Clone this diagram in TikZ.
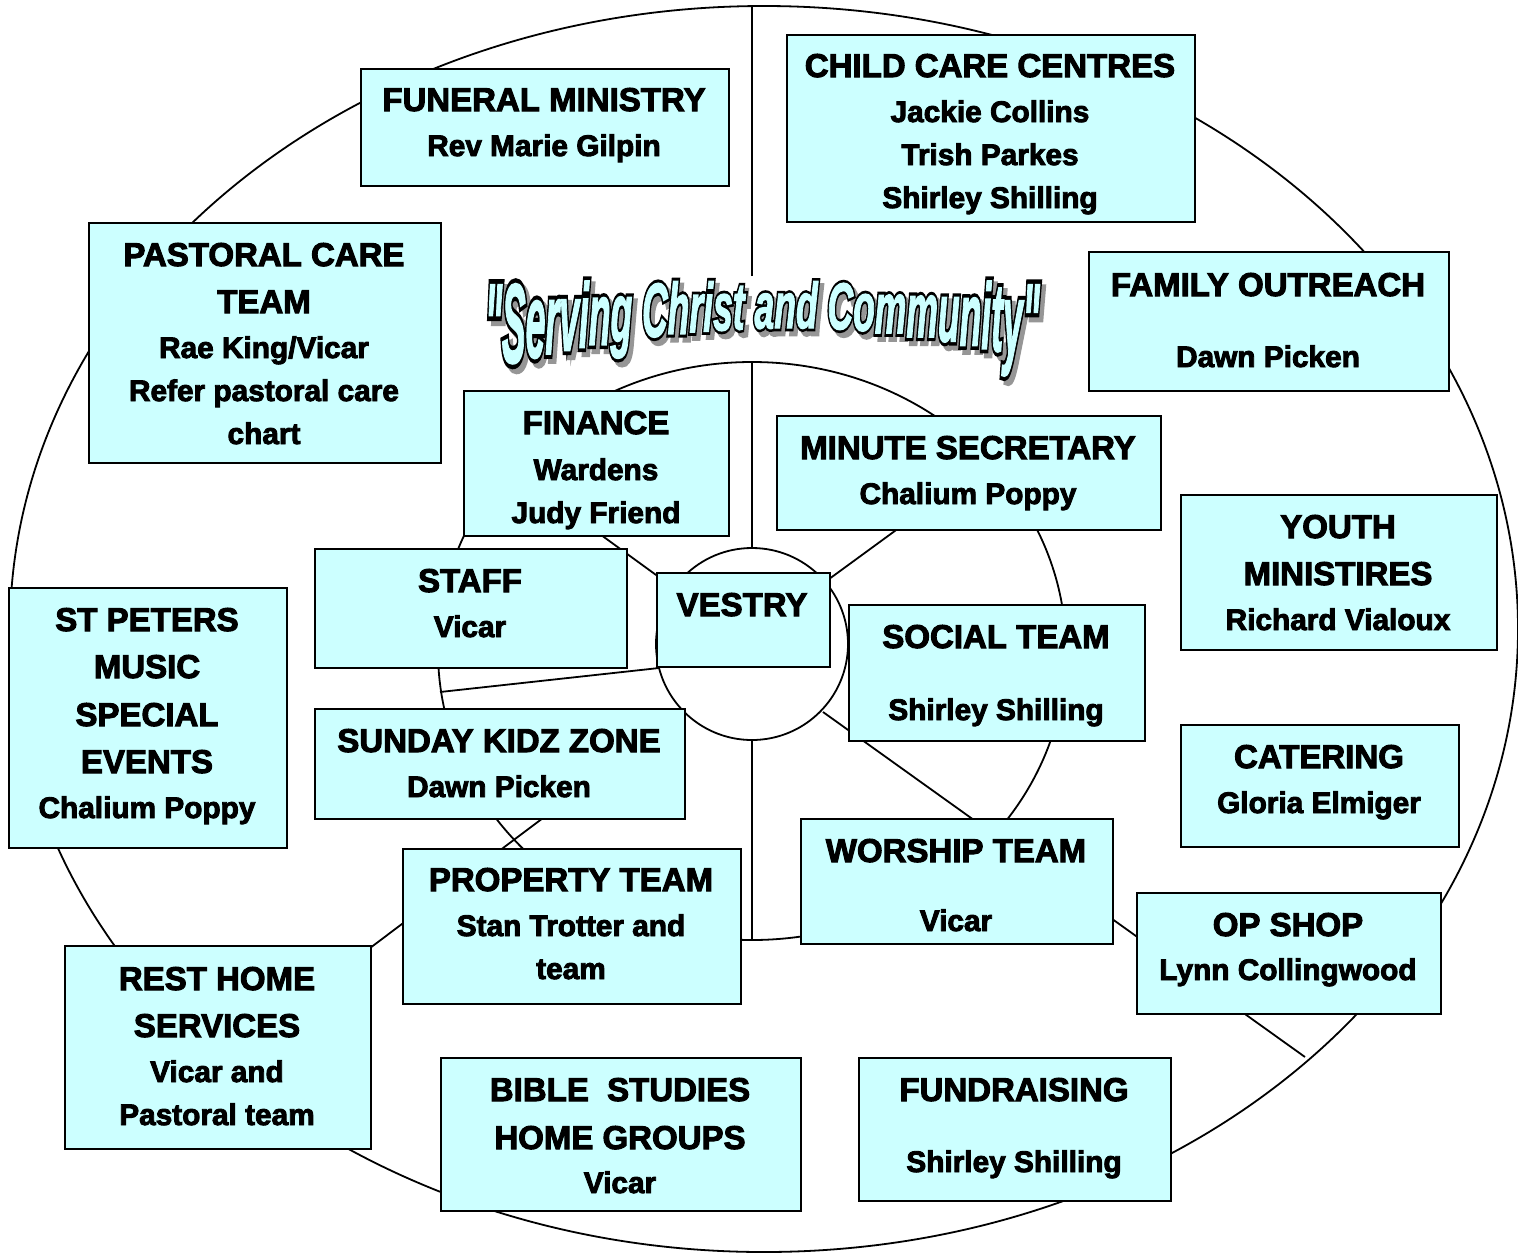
\documentclass[tikz,border=0pt]{standalone}
\usepackage{fontspec}
\usepackage{graphicx}
\setmainfont{Liberation Sans}
\newfontfamily\boxfont[BoldFeatures={FakeBold=3}]{Liberation Sans}
\newfontfamily\waOut[BoldItalicFeatures={FakeBold=10}]{Liberation Sans}
\newfontfamily\waFill[BoldItalicFeatures={FakeBold=2}]{Liberation Sans}
\definecolor{boxcyan}{RGB}{204,255,255}
\definecolor{shadowgray}{RGB}{150,150,150}
\tikzset{
  panel/.style={draw=black, line width=2.2pt, fill=boxcyan, inner sep=0pt, anchor=north west},
  hd/.style={font=\boxfont\bfseries\fontsize{33}{36}\selectfont, anchor=base, inner sep=0pt},
  sb/.style={font=\boxfont\bfseries\fontsize{29.8}{34}\selectfont, anchor=base, inner sep=0pt},
  ring/.style={draw=black, line width=1.8pt},
  spoke/.style={draw=black, line width=1.8pt},
  waletter/.style={anchor=base west, inner sep=0pt}
}
\newcommand\waglyph[2]{\fontsize{63}{63}\selectfont\scalebox{0.5635}[#1]{#2}}
\begin{document}
\begin{tikzpicture}[x=1pt,y=-1pt]
\useasboundingbox[fill=white] (0,0) rectangle (1518,1254);

% rings
\draw[ring] (764,629) ellipse [x radius=754, y radius=623];
\draw[ring] (752,651) ellipse [x radius=314, y radius=289];
\draw[ring] (752,644) circle [radius=96];

% spoke end points
\coordinate (up-a) at (752,548);
\coordinate (up-b) at (752,276);
\coordinate (up-c) at (752,362);
\coordinate (up-d) at (752,6);
\coordinate (dn-a) at (752,740);
\coordinate (dn-b) at (752,940);
\coordinate (ul-a) at (674,588);
\coordinate (ul-b) at (509,468);
\coordinate (ur-a) at (825,582);
\coordinate (ur-b) at (955,487);
\coordinate (lf-a) at (659,668);
\coordinate (lf-b) at (440,692);
\coordinate (lr-a) at (823,712);
\coordinate (lr-b) at (1305,1057);
\coordinate (ll-a) at (684,712);
\coordinate (ll-b) at (221,1060);

\draw[spoke] (up-a) -- (up-c);
\draw[spoke] (up-b) -- (up-d);
\draw[spoke] (dn-a) -- (dn-b);
\draw[spoke] (ul-a) -- (ul-b);
\draw[spoke] (ur-a) -- (ur-b);
\draw[spoke] (lf-a) -- (lf-b);
\draw[spoke] (lr-a) -- (lr-b);
\draw[spoke] (ll-a) -- (ll-b);

% boxes
\node[panel, minimum width=368, minimum height=117] (funeral) at (360,68) {};
\node[panel, minimum width=408, minimum height=187] (childcare) at (786,34) {};
\node[panel, minimum width=352, minimum height=240] (pastoral) at (88,222) {};
\node[panel, minimum width=360, minimum height=139] (family) at (1088,251) {};
\node[panel, minimum width=265, minimum height=145] (finance) at (463,390) {};
\node[panel, minimum width=384, minimum height=114] (minute) at (776,415) {};
\node[panel, minimum width=316, minimum height=155] (youth) at (1180,494) {};
\node[panel, minimum width=312, minimum height=119] (staff) at (314,548) {};
\node[panel, minimum width=173, minimum height=94] (vestry) at (656,572) {};
\node[panel, minimum width=278, minimum height=260] (stpeters) at (8,587) {};
\node[panel, minimum width=296, minimum height=136] (social) at (848,604) {};
\node[panel, minimum width=370, minimum height=110] (kidz) at (314,708) {};
\node[panel, minimum width=278, minimum height=122] (catering) at (1180,724) {};
\node[panel, minimum width=312, minimum height=125] (worship) at (800,818) {};
\node[panel, minimum width=338, minimum height=155] (property) at (402,848) {};
\node[panel, minimum width=304, minimum height=121] (opshop) at (1136,892) {};
\node[panel, minimum width=306, minimum height=203] (resthome) at (64,945) {};
\node[panel, minimum width=360, minimum height=153] (bible) at (440,1057) {};
\node[panel, minimum width=312, minimum height=143] (fundraising) at (858,1057) {};

% texts
\node[hd] (funeral-1) at (544,111) {FUNERAL MINISTRY};
\node[sb] (funeral-2) at (544,156) {Rev Marie Gilpin};

\node[hd] (childcare-1) at (990,77) {CHILD CARE CENTRES};
\node[sb] (childcare-2) at (990,122) {Jackie Collins};
\node[sb] (childcare-3) at (990,165) {Trish Parkes};
\node[sb] (childcare-4) at (990,208) {Shirley Shilling};

\node[hd] (pastoral-1) at (264,266) {PASTORAL CARE};
\node[hd] (pastoral-2) at (264,313) {TEAM};
\node[sb] (pastoral-3) at (264,358) {Rae King/Vicar};
\node[sb] (pastoral-4) at (264,401) {Refer pastoral care};
\node[sb] (pastoral-5) at (264,444) {chart};

\node[hd] (family-1) at (1268,296) {FAMILY OUTREACH};
\node[sb] (family-2) at (1268,367) {Dawn Picken};

\node[hd] (finance-1) at (596,434) {FINANCE};
\node[sb] (finance-2) at (596,480) {Wardens};
\node[sb] (finance-3) at (596,523) {Judy Friend};

\node[hd] (minute-1) at (968,459) {MINUTE SECRETARY};
\node[sb] (minute-2) at (968,504) {Chalium Poppy};

\node[hd] (youth-1) at (1338,538) {YOUTH};
\node[hd] (youth-2) at (1338,585) {MINISTIRES};
\node[sb] (youth-3) at (1338,630) {Richard Vialoux};

\node[hd] (staff-1) at (470,592) {STAFF};
\node[sb] (staff-2) at (470,637) {Vicar};

\node[hd] (vestry-1) at (742,616) {VESTRY};

\node[hd] (stpeters-1) at (147,631) {ST PETERS};
\node[hd] (stpeters-2) at (147,678) {MUSIC};
\node[hd] (stpeters-3) at (147,726) {SPECIAL};
\node[hd] (stpeters-4) at (147,773) {EVENTS};
\node[sb] (stpeters-5) at (147,818) {Chalium Poppy};

\node[hd] (social-1) at (996,648) {SOCIAL TEAM};
\node[sb] (social-2) at (996,720) {Shirley Shilling};

\node[hd] (kidz-1) at (499,752) {SUNDAY KIDZ ZONE};
\node[sb] (kidz-2) at (499,797) {Dawn Picken};

\node[hd] (catering-1) at (1319,768) {CATERING};
\node[sb] (catering-2) at (1319,813) {Gloria Elmiger};

\node[hd] (worship-1) at (956,862) {WORSHIP TEAM};
\node[sb] (worship-2) at (956,931) {Vicar};

\node[hd] (property-1) at (571,891) {PROPERTY TEAM};
\node[sb] (property-2) at (571,936) {Stan Trotter and};
\node[sb] (property-3) at (571,979) {team};

\node[hd] (opshop-1) at (1288,936) {OP SHOP};
\node[sb] (opshop-2) at (1288,980) {Lynn Collingwood};

\node[hd] (resthome-1) at (217,990) {REST HOME};
\node[hd] (resthome-2) at (217,1037) {SERVICES};
\node[sb] (resthome-3) at (217,1082) {Vicar and};
\node[sb] (resthome-4) at (217,1125) {Pastoral team};

\node[hd] (bible-1) at (620,1101) {BIBLE\ \ STUDIES};
\node[hd] (bible-2) at (620,1149) {HOME GROUPS};
\node[sb] (bible-3) at (620,1193) {Vicar};

\node[hd] (fundraising-1) at (1014,1101) {FUNDRAISING};
\node[sb] (fundraising-2) at (1014,1172) {Shirley Shilling};

% WordArt title: letter / left edge / advance (em)
\def\waletters{"/485.0/.474, S/501.8/.667, e/525.5/.556, r/545.2/.389, v/559.1/.556, i/578.8/.278, n/588.7/.611, g/610.4/.611, C/641.9/.722, h/667.5/.611, r/689.2/.389, i/703.0/.278, s/712.9/.556, t/732.6/.333, a/754.3/.556, n/774.1/.611, d/795.8/.611, C/827.3/.722, o/853.0/.611, m/874.6/.889, m/906.2/.889, u/937.8/.611, n/959.5/.611, i/981.1/.278, t/991.0/.333, y/1002.8/.556, "/1022.6/.474}
\foreach \c/\xl/\w [count=\i] in \waletters {
  \pgfmathsetmacro\xc{\xl+\w*17.75}
  \pgfmathsetmacro\b{\xc<795 ? 328+33*((\xc-795)/275)^2 : 328+30*((\xc-795)/230)^2}
  \pgfmathsetmacro\ys{(\b-282)/45}
  \node[waletter, text=shadowgray] (wa-shadow-\i) at (\xl+4,\b+5) {\waOut\bfseries\itshape\waglyph{\ys}{\c}};
}
\foreach \c/\xl/\w [count=\i] in \waletters {
  \pgfmathsetmacro\xc{\xl+\w*17.75}
  \pgfmathsetmacro\b{\xc<795 ? 328+33*((\xc-795)/275)^2 : 328+30*((\xc-795)/230)^2}
  \pgfmathsetmacro\ys{(\b-282)/45}
  \node[waletter, text=black] (wa-line-\i) at (\xl,\b) {\waOut\bfseries\itshape\waglyph{\ys}{\c}};
}
\foreach \c/\xl/\w [count=\i] in \waletters {
  \pgfmathsetmacro\xc{\xl+\w*17.75}
  \pgfmathsetmacro\b{\xc<795 ? 328+33*((\xc-795)/275)^2 : 328+30*((\xc-795)/230)^2}
  \pgfmathsetmacro\ys{(\b-282)/45}
  \node[waletter, text=boxcyan] (wa-fill-\i) at (\xl,\b) {\waFill\bfseries\itshape\waglyph{\ys}{\c}};
}
\end{tikzpicture}
\end{document}
